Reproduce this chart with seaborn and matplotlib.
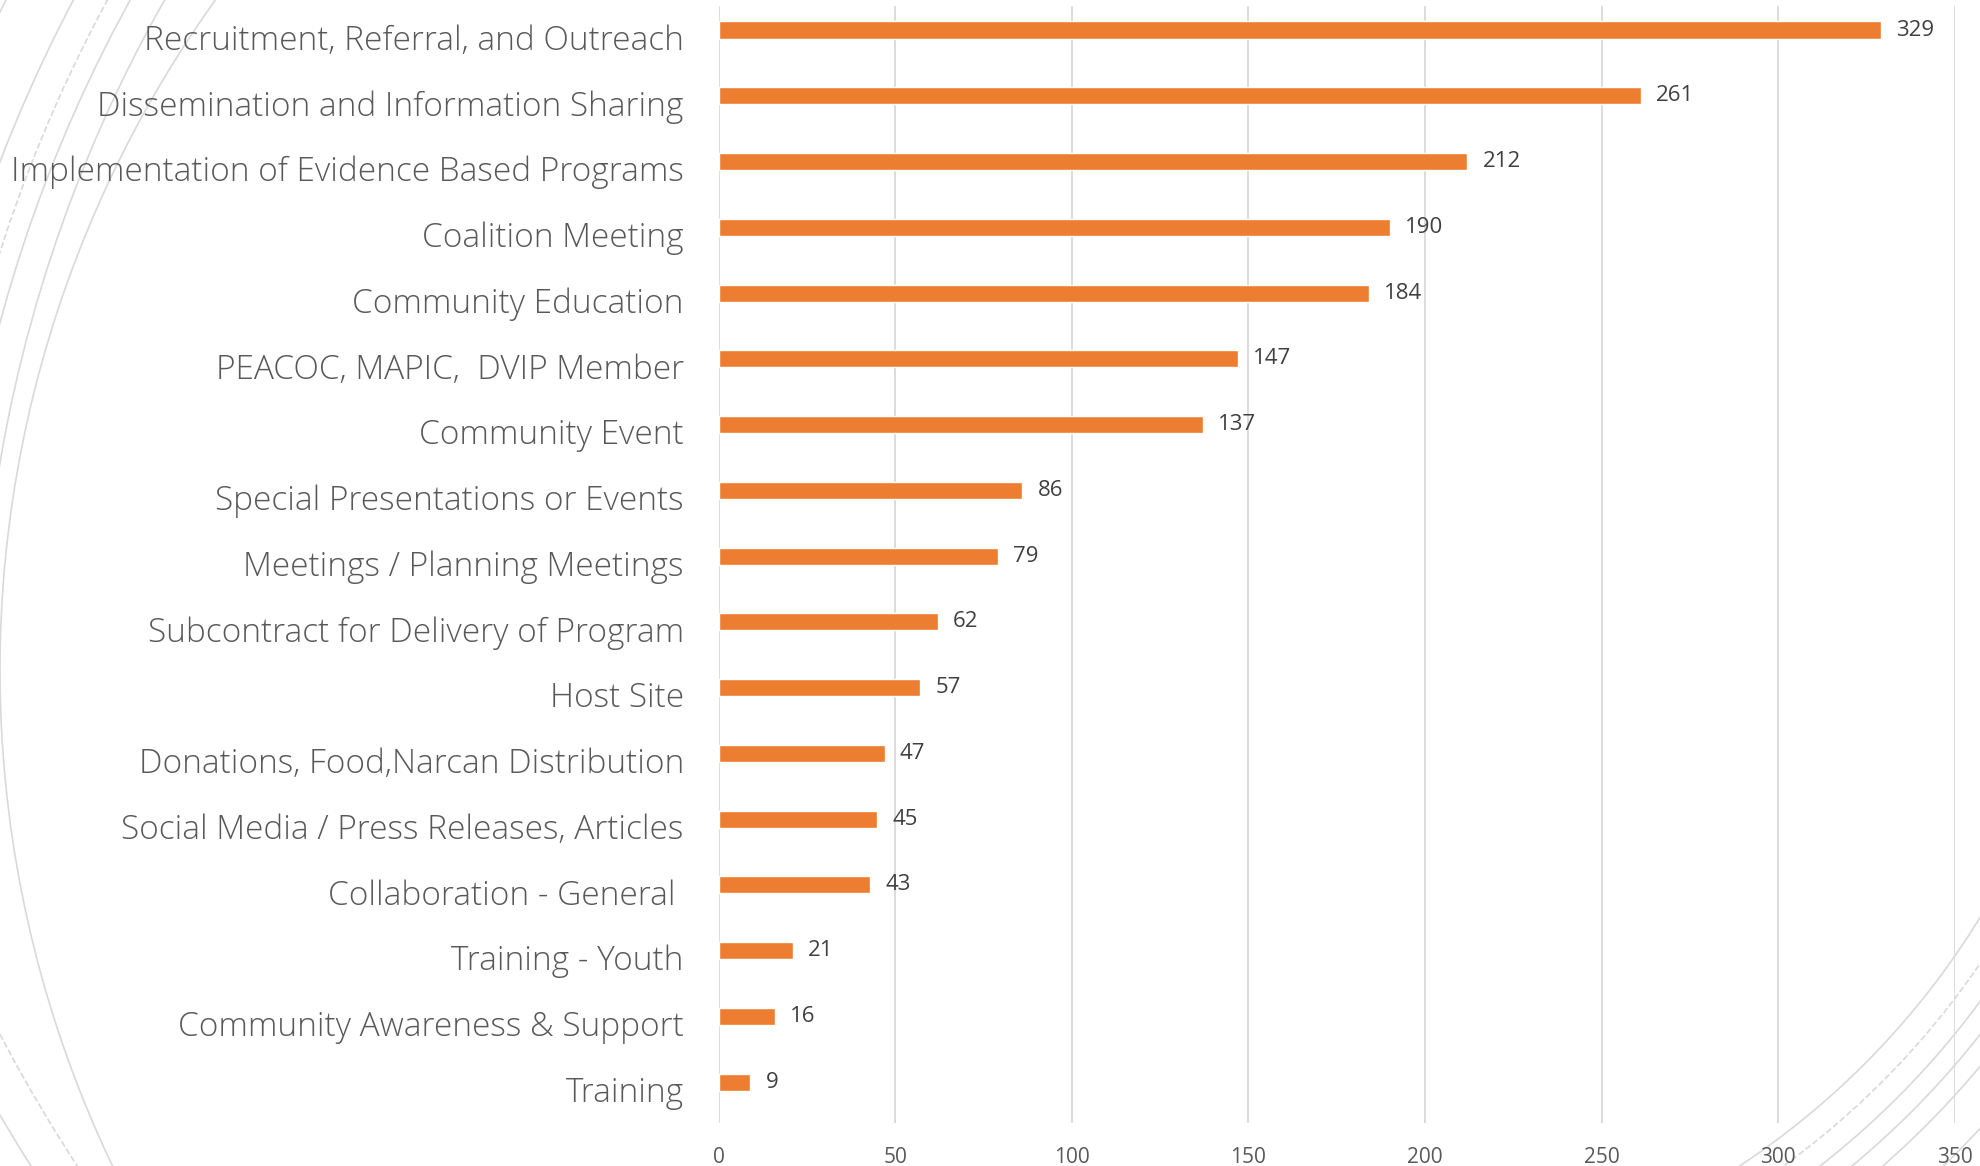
import numpy as np
import pandas as pd
import matplotlib
matplotlib.use("Agg")
import matplotlib.pyplot as plt
import matplotlib.transforms as mtransforms
from matplotlib.patches import Arc
import seaborn as sns

# ---- data ------------------------------------------------------------------
activities = [
    "Recruitment, Referral, and Outreach",
    "Dissemination and Information Sharing",
    "Implementation of Evidence Based Programs",
    "Coalition Meeting",
    "Community Education",
    "PEACOC, MAPIC,  DVIP Member",
    "Community Event",
    "Special Presentations or Events",
    "Meetings / Planning Meetings",
    "Subcontract for Delivery of Program",
    "Host Site",
    "Donations, Food,Narcan Distribution",
    "Social Media / Press Releases, Articles",
    "Collaboration - General ",
    "Training - Youth",
    "Community Awareness & Support",
    "Training",
]
counts = [329, 261, 212, 190, 184, 147, 137, 86, 79, 62, 57, 47, 45, 43, 21, 16, 9]
x_ticks = [0, 50, 100, 150, 200, 250, 300, 350]

df = pd.DataFrame({"activity": activities, "count": counts})

# ---- style -----------------------------------------------------------------
sns.set_theme(style="white")
plt.rcParams["font.family"] = ["Open Sans", "DejaVu Sans"]

W, H, DPI = 1980, 1166, 100
fig = plt.figure(figsize=(W / DPI, H / DPI), dpi=DPI)

# decorative background arcs (slide theme), drawn in pixel space (y down)
bg = fig.add_axes([0, 0, 1, 1], zorder=0)
bg.set_xlim(0, W)
bg.set_ylim(H, 0)
bg.axis("off")
arcs = [
    # (cx, cy, r, theta1, theta2, linestyle)
    (1150, 670, 1150, 90, 270, "-"),
    (1400, 700, 1420, 180, 270, "-"),
    (1400, 700, 1450, 180, 270, "-"),
    (1400, 700, 1470, 180, 270, "--"),
    (1400, 700, 1500, 180, 270, "-"),
    (1400, 700, 1560, 180, 270, "-"),
    (1400, 300, 1581, 90, 180, "--"),
    (1400, 300, 1620, 90, 180, "-"),
    (1300, 500, 798, 0, 90, "-"),
    (1300, 500, 823, 0, 90, "--"),
    (1300, 500, 845, 0, 90, "-"),
    (1300, 500, 865, 0, 90, "-"),
    (1300, 500, 885, 0, 90, "-"),
    (1300, 500, 926, 0, 90, "-"),
]
for cx, cy, r, t1, t2, ls in arcs:
    bg.add_patch(Arc((cx, cy), 2 * r, 2 * r, theta1=t1, theta2=t2,
                     edgecolor="#D9D9D9", linewidth=1.2, linestyle=ls))

# chart axes
left, right = 718.5 / W, 1955 / W
bottom, top = 1 - 1123 / H, 1 - 6 / H
ax = fig.add_axes([left, bottom, right - left, top - bottom], zorder=1)
ax.patch.set_alpha(0)

sns.barplot(data=df, x="count", y="activity", orient="h", color="#ED7D31",
            width=0.26, saturation=1, ax=ax)

ax.set_xlim(0, 350)
ax.set_ylim(16.62, -0.365)
ax.set_xticks(x_ticks)
ax.set_xlabel("")
ax.set_ylabel("")

ax.grid(axis="x", color="#D9D9D9", linewidth=1.3)
ax.grid(axis="y", visible=False)
ax.set_axisbelow(True)
sns.despine(ax=ax, left=True, bottom=True)

ax.tick_params(axis="y", length=0, pad=25, labelsize=24, labelcolor="#595959")
ax.tick_params(axis="x", length=0, pad=17, labelsize=15, labelcolor="#595959")
shift = mtransforms.ScaledTranslation(0, -0.07, fig.dpi_scale_trans)
for lbl in ax.get_yticklabels():
    lbl.set_fontweight("light")
    lbl.set_transform(lbl.get_transform() + shift)

ax.bar_label(ax.containers[0], padding=11, fontsize=16, color="#404040")

fig.savefig("out.png", dpi=DPI)
